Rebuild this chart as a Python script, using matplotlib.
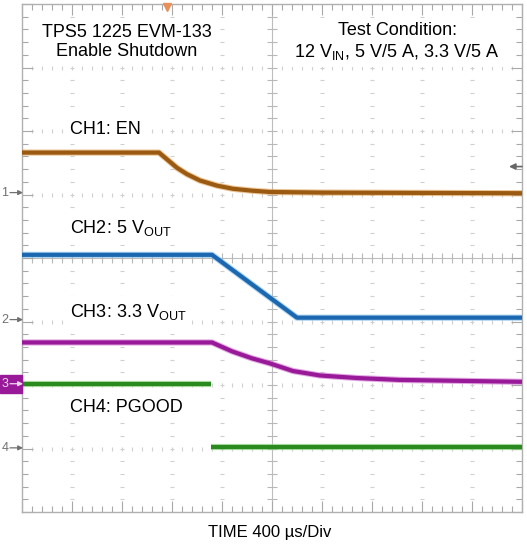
import numpy as np
import matplotlib.pyplot as plt
from matplotlib.patches import Rectangle

plt.rcParams['font.family'] = ['Liberation Sans', 'DejaVu Sans']
plt.rcParams['mathtext.default'] = 'regular'

# traces, in scope divisions (x: 0..10, y: -4..4)
ch1_t = [0, 2.74, 2.95, 3.1, 3.3, 3.56, 3.9, 4.22, 4.6, 4.96, 6, 10]
ch1_v = [1.66, 1.66, 1.52, 1.42, 1.32, 1.22, 1.14, 1.09, 1.06, 1.04, 1.03, 1.02]
ch2_t = [0, 3.8, 5.5, 10]
ch2_v = [0.05, 0.05, -0.94, -0.94]
ch3_t = [0, 3.8, 4.0, 4.2, 4.6, 4.96, 5.42, 5.96, 6.7, 7.56, 10]
ch3_v = [-1.33, -1.33, -1.40, -1.47, -1.58, -1.66, -1.78, -1.85, -1.89, -1.92, -1.95]
ch4_t = [0, 3.78, 3.78, 10]
ch4_v = [-1.98, -1.98, -2.97, -2.97]

ch_names = ['1', '2', '3', '4']
ch_refs = [1.03, -0.97, -1.98, -2.99]
ch_colors = ['#9a5a12', '#1b68b0', '#981a98', '#2a8a20']
ch_glow = ['#e0a050', '#7ab8e8', '#d070d0', '#80d070']
trig_x = 2.9
trig_right = 1.44

fig = plt.figure(figsize=(5.27, 5.44), dpi=100)
ax = fig.add_axes([22 / 527, 32 / 544, 500 / 527, 508 / 544])
ax.set_xlim(0, 10)
ax.set_ylim(-4, 4)

# graticule: faint dots every 0.2 div along each major line
mx = np.arange(0, 10.01, 0.2)
my = np.arange(-4, 4.01, 0.2)
grid_c = '#d0d0d0'
for x in range(1, 10):
    if x != 5:
        ax.plot(np.full_like(my, x), my, ls='none', marker='_', ms=3, mew=0.8, color=grid_c, zorder=1)
for y in range(-3, 4):
    if y != 0:
        ax.plot(mx, np.full_like(mx, y), ls='none', marker='|', ms=3, mew=0.8, color=grid_c, zorder=1)
ax.axvline(5, color='#bdbdbd', lw=0.8, zorder=1)
ax.axhline(0, color='#bdbdbd', lw=0.8, zorder=1)
ax.plot(mx, np.zeros_like(mx), ls='none', marker='|', ms=7, mew=0.8, color='#b8b8b8', zorder=1)
ax.plot(np.full_like(my, 5), my, ls='none', marker='_', ms=7, mew=0.8, color='#b8b8b8', zorder=1)
ax.set_xticks(range(11))
ax.set_yticks(range(-4, 5))
ax.set_xticks(mx, minor=True)
ax.set_yticks(my, minor=True)
ax.tick_params(which='both', direction='in', top=True, right=True,
               labelbottom=False, labelleft=False, color='#a8a8a8')
ax.tick_params(which='major', length=8, width=0.8)
ax.tick_params(which='minor', length=4, width=0.8)
for s in ax.spines.values():
    s.set_color('#b0b0b0')
    s.set_linewidth(1.0)

# traces
traces = [(ch1_t, ch1_v), (ch2_t, ch2_v), (ch3_t, ch3_v)]
for (t, v), c, g in zip(traces, ch_colors, ch_glow):
    ax.plot(t, v, color=g, lw=4.5, alpha=0.6, solid_capstyle='butt', zorder=3)
    ax.plot(t, v, color=c, lw=3, solid_capstyle='butt', zorder=4)
# PGOOD: fast edge, only the two levels show on screen
for seg in (slice(0, 2), slice(2, 4)):
    ax.plot(ch4_t[seg], ch4_v[seg], color=ch_glow[3], lw=4.5, alpha=0.6, solid_capstyle='butt', zorder=3)
    ax.plot(ch4_t[seg], ch4_v[seg], color=ch_colors[3], lw=3, solid_capstyle='butt', zorder=4)

# channel ground markers
for name, ref, c in zip(ch_names, ch_refs, ch_colors):
    if name == '3':
        ax.add_patch(Rectangle((-22 / 50, ref - 0.14), 22 / 50, 0.28, color=c,
                               transform=ax.transData, clip_on=False, zorder=5))
        tc = '#f0d8f0'
    else:
        tc = '#707070'
    ax.text(-0.34, ref, name, color=tc, fontsize=9, ha='center', va='center', clip_on=False, zorder=6)
    ax.annotate('', xy=(0.02, ref), xytext=(-0.24, ref),
                arrowprops=dict(arrowstyle='-|>', color=tc, lw=0.9, mutation_scale=7,
                                shrinkA=0, shrinkB=0),
                annotation_clip=False, zorder=6)

ax.annotate('', xy=(9.74, trig_right), xytext=(10.0, trig_right),
            arrowprops=dict(arrowstyle='-|>', color='#666666', lw=1.2, mutation_scale=9,
                            shrinkA=0, shrinkB=0))
ax.plot([trig_x], [3.96], marker='v', ms=6, color='#e8905a', clip_on=False, zorder=5)

# labels
box = dict(facecolor='white', edgecolor='none', pad=4)
ax.text(2.1, 3.4, 'TPS5 1225 EVM-133\nEnable Shutdown', fontsize=13, ha='center',
        va='center', linespacing=1.15, bbox=box, zorder=6)
ax.text(7.5, 3.4, 'Test Condition:\n12 V$_{IN}$, 5 V/5 A, 3.3 V/5 A', fontsize=13,
        ha='center', va='center', linespacing=1.15, bbox=box, zorder=6)
ax.text(0.95, 2.02, 'CH1: EN', fontsize=13, va='center', bbox=box, zorder=6)
ax.text(0.95, 0.48, 'CH2: 5 V$_{OUT}$', fontsize=13, va='center', bbox=box, zorder=6)
ax.text(0.95, -0.85, 'CH3: 3.3 V$_{OUT}$', fontsize=13, va='center', bbox=box, zorder=6)
ax.text(0.95, -2.36, 'CH4: PGOOD', fontsize=13, va='center', bbox=box, zorder=6)

fig.text(270 / 527, 1 - 532 / 544, 'TIME 400 µs/Div', fontsize=12, ha='center', va='center')

fig.savefig('out.png', dpi=100)
